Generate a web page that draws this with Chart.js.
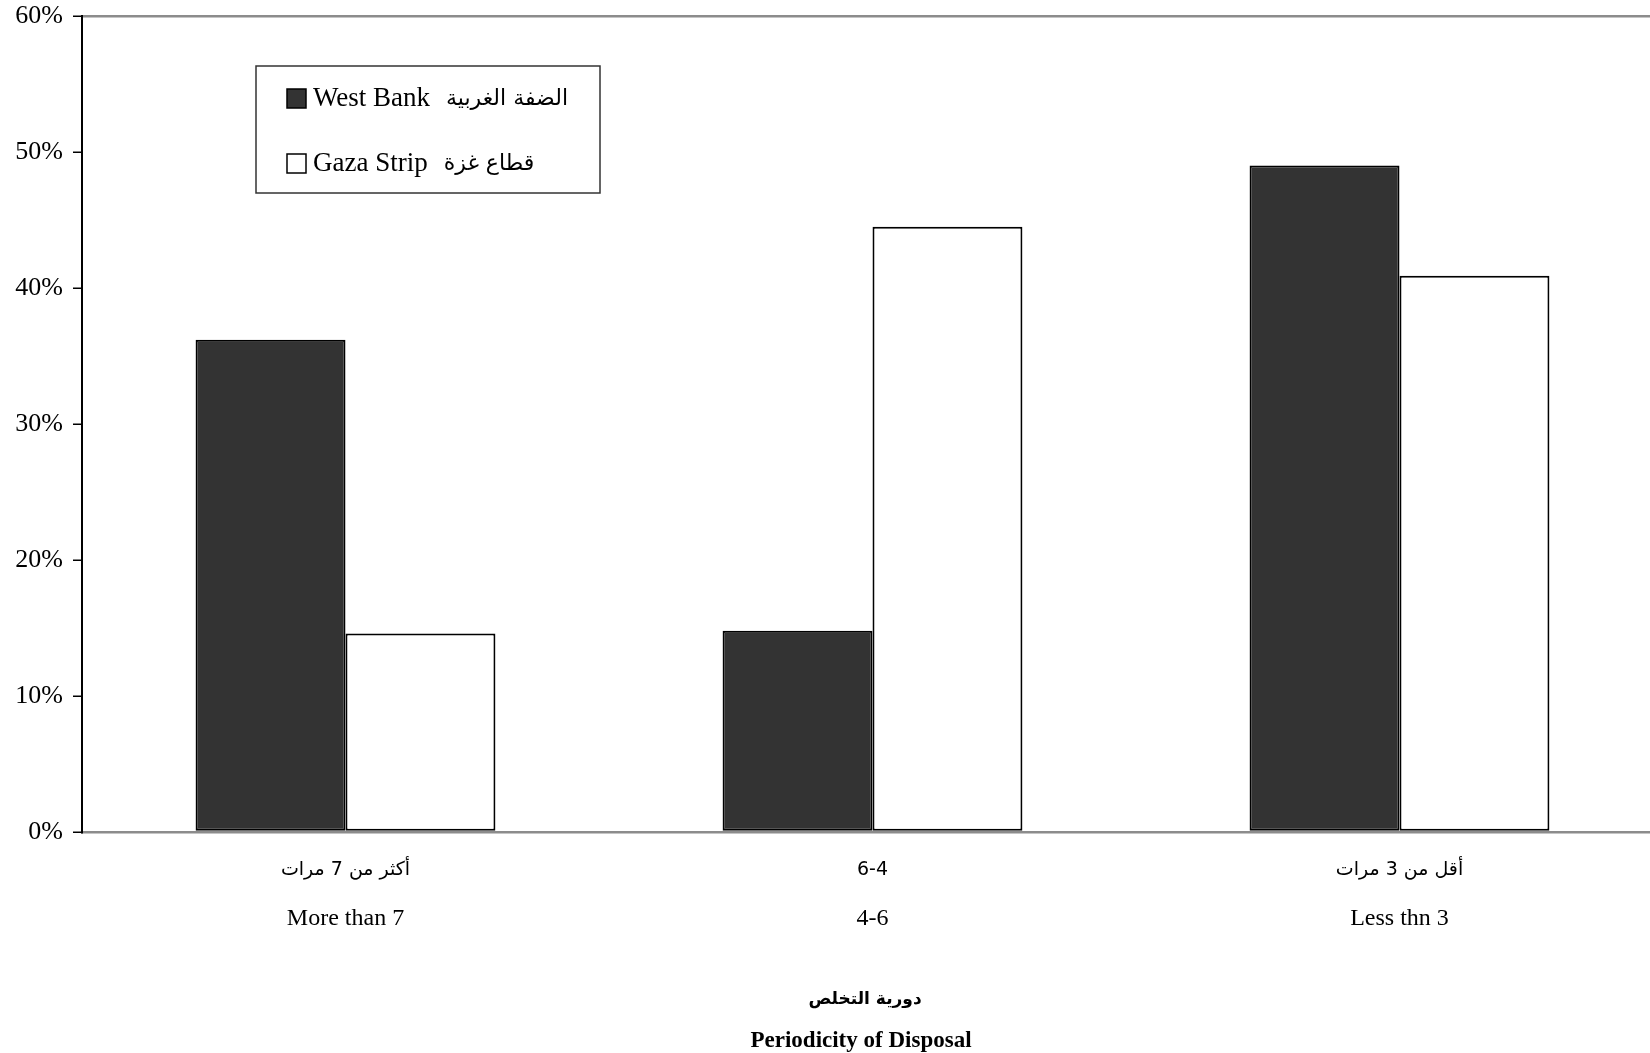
<!DOCTYPE html>
<html>
<head>
<meta charset="utf-8">
<script src="https://cdn.jsdelivr.net/npm/chart.js@4.4.1/dist/chart.umd.min.js"></script>
<style>
  html, body { margin: 0; padding: 0; background: #fff; overflow: hidden; }
  #wrap { position: absolute; left: 0; top: 0; }
</style>
</head>
<body>
<div id="wrap"><canvas id="chart" width="1680" height="1100"></canvas></div>
<script>
// chart data
const categoriesAr = ['أكثر من 7 مرات', '6-4', 'أقل من 3 مرات'];
const categoriesEn = ['More than 7', '4-6', 'Less thn 3'];
const westBank = [36.2, 14.8, 49.0];
const gazaStrip = [14.6, 44.5, 40.9];
const yTicks = [0, 10, 20, 30, 40, 50, 60];
const seriesEn = ['West Bank', 'Gaza Strip'];
const seriesAr = ['الضفة الغربية', 'قطاع غزة'];
const titleAr = 'دورية التخلص';
const titleEn = 'Periodicity of Disposal';

const SERIF = '"Liberation Serif", "DejaVu Sans", serif';
const ARABIC = '"DejaVu Sans", sans-serif';

// legend box and the two-line category / axis labels
const labelsAndLegend = {
  id: 'labelsAndLegend',
  afterDraw(chart) {
    const ctx = chart.ctx;
    const xs = chart.scales.x;
    ctx.save();
    ctx.textBaseline = 'middle';

    // category labels, arabic line over english line
    ctx.textAlign = 'center';
    ctx.fillStyle = '#000';
    categoriesAr.forEach((a, i) => {
      const x = xs.getPixelForTick(i);
      ctx.font = '19px ' + ARABIC;
      ctx.fillText(a, x, 870);
      ctx.font = '24px ' + SERIF;
      ctx.fillText(categoriesEn[i], x, 919);
    });

    // axis title
    ctx.font = 'bold 17px ' + ARABIC;
    ctx.fillText(titleAr, 865, 1000);
    ctx.font = 'bold 23px ' + SERIF;
    ctx.fillText(titleEn, 861, 1041);

    // legend
    ctx.fillStyle = '#fff';
    ctx.fillRect(256, 66, 344, 127);
    ctx.strokeStyle = '#333';
    ctx.lineWidth = 1.5;
    ctx.strokeRect(256, 66, 344, 127);
    ctx.textAlign = 'left';
    chart.data.datasets.forEach((ds, i) => {
      const y = 99 + i * 65;
      ctx.fillStyle = ds.backgroundColor;
      ctx.fillRect(287, y - 10, 19, 19);
      ctx.strokeStyle = '#000';
      ctx.lineWidth = 1.5;
      ctx.strokeRect(287, y - 10, 19, 19);
      ctx.fillStyle = '#000';
      ctx.font = '27px ' + SERIF;
      ctx.fillText(seriesEn[i], 313, y);
      const w = ctx.measureText(seriesEn[i]).width;
      ctx.font = '22px ' + ARABIC;
      ctx.fillText(seriesAr[i], 313 + w + 16, y);
    });
    ctx.restore();
  }
};

const ctx = document.getElementById('chart');
new Chart(ctx, {
  type: 'bar',
  data: {
    labels: categoriesEn,
    datasets: [
      {
        label: seriesEn[0] + '  ' + seriesAr[0],
        data: westBank,
        backgroundColor: '#333333',
        borderColor: '#000',
        borderWidth: 2,
        borderSkipped: false,
        categoryPercentage: 0.569,
        barPercentage: 1
      },
      {
        label: seriesEn[1] + '  ' + seriesAr[1],
        data: gazaStrip,
        backgroundColor: '#ffffff',
        borderColor: '#000',
        borderWidth: 2,
        borderSkipped: false,
        categoryPercentage: 0.569,
        barPercentage: 1
      }
    ]
  },
  options: {
    responsive: false,
    animation: false,
    layout: { padding: { top: 16, right: 17, left: 0, bottom: 0 } },
    plugins: {
      legend: { display: false },
      tooltip: { enabled: false }
    },
    scales: {
      x: {
        grid: { display: false },
        border: { color: '#8c8c8c', width: 2.5 },
        ticks: { display: false },
        afterFit: s => { s.height = 268; }
      },
      y: {
        min: 0,
        max: 60,
        afterBuildTicks: s => { s.ticks = yTicks.map(v => ({ value: v })); },
        ticks: {
          callback: v => v + '%',
          color: '#000',
          font: { family: SERIF, size: 26 },
          padding: 10
        },
        grid: {
          color: c => (c.tick && c.tick.value === 60) ? '#8c8c8c' : 'rgba(0,0,0,0)',
          lineWidth: 2.5,
          tickColor: '#000',
          tickLength: 9,
          tickWidth: 1.5
        },
        border: { color: '#000', width: 2 },
        afterFit: s => { s.width = 82; s.paddingTop = 8; s.paddingBottom = 8; }
      }
    }
  },
  plugins: [labelsAndLegend]
});
</script>
</body>
</html>
